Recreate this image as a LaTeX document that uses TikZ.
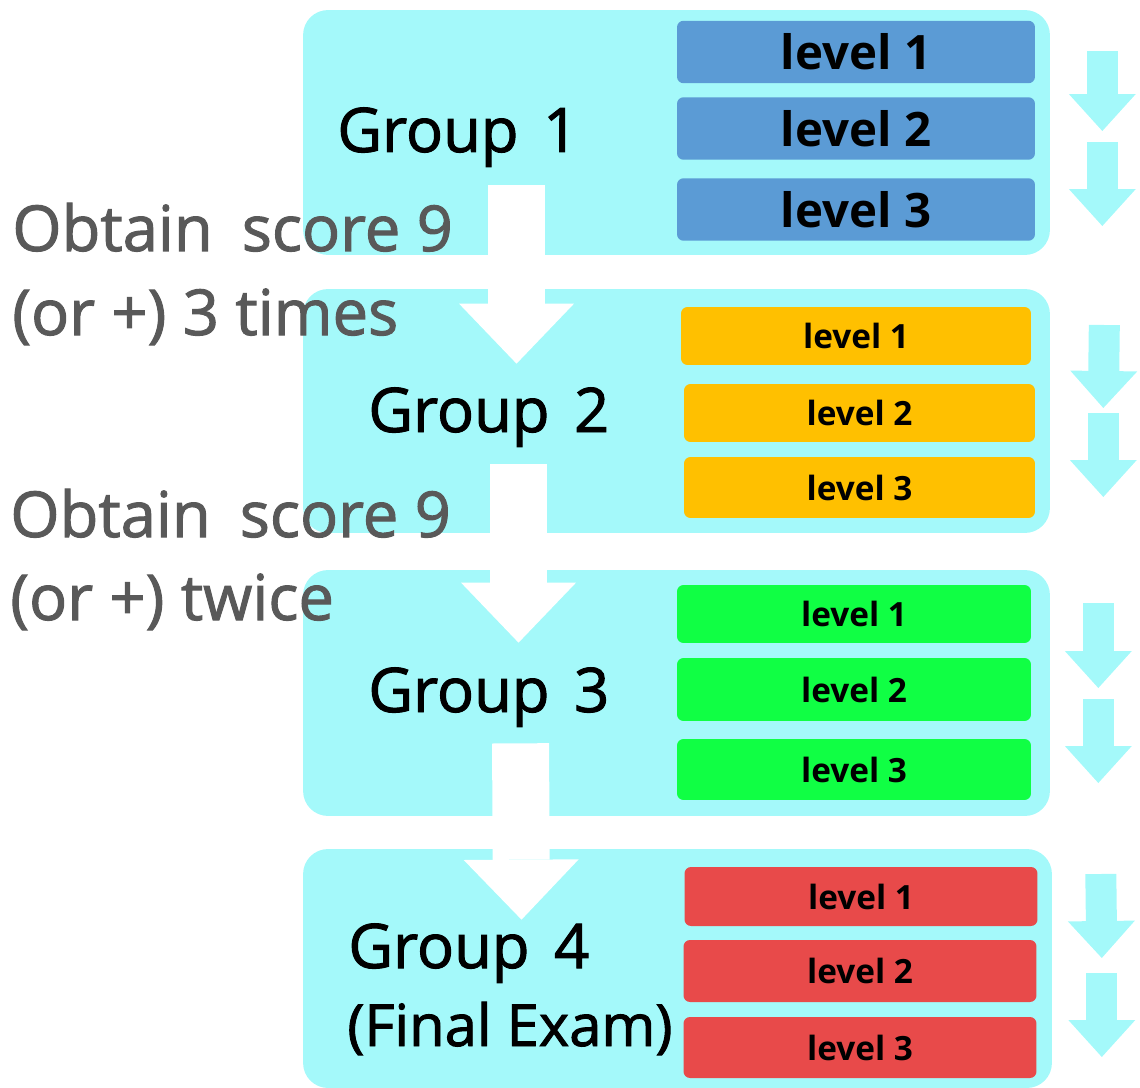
\documentclass[tikz,border=0pt]{standalone}
\usepackage{fontspec}
\setmainfont{Open Sans}
\newfontfamily\heavyfont[FakeBold=1.6]{Open Sans}
\usetikzlibrary{arrows.meta, positioning, calc}
\usepackage{xcolor}

\definecolor{panelCyan}{RGB}{164,249,250}
\definecolor{lvlBlue}{RGB}{91,155,213}
\definecolor{lvlOrange}{RGB}{255,192,0}
\definecolor{lvlGreen}{RGB}{16,255,68}
\definecolor{lvlRed}{RGB}{232,74,74}
\definecolor{noteGray}{RGB}{89,89,89}

\tikzset{
    % Panels and level bars
    panel/.style={rectangle, rounded corners=0.5cm, fill=panelCyan, inner sep=0pt},
    lvl/.style={rectangle, rounded corners=0.13cm, inner sep=0pt,
                minimum width=7.06cm, minimum height=1.2cm,
                font=\bfseries\fontsize{19}{22}\selectfont},
    lvlBig/.style={lvl, minimum height=1.25cm, font=\bfseries\fontsize{27}{30}\selectfont},
    % Labels
    grouplbl/.style={anchor=base west, inner sep=0pt, font=\heavyfont\fontsize{35}{40}\selectfont},
    notelbl/.style={anchor=base west, inner sep=0pt, text=noteGray, font=\heavyfont\fontsize{36}{42}\selectfont},
    % Arrows
    bigflow/.style={-{Triangle[line width=0pt, length=1.2cm, width=2.3cm]}, line width=1.14cm, white},
    sideflow/.style={-{Triangle[line width=0pt, length=0.74cm, width=1.34cm]}, line width=0.62cm, panelCyan}
}

\begin{document}
\begin{tikzpicture}[x=0.02cm, y=-0.02cm]
\useasboundingbox (0,0) rectangle (1140,1088);

% group panels
\node[panel, minimum width=14.94cm, minimum height=4.9cm] (grp1) at (676.5,132.5) {};
\node[panel, minimum width=14.94cm, minimum height=4.88cm] (grp2) at (676.5,411) {};
\node[panel, minimum width=14.94cm, minimum height=4.92cm] (grp3) at (676.5,693) {};
\node[panel, minimum width=14.98cm, minimum height=4.78cm] (grp4) at (677.5,968.5) {};

% level bars
\node[lvlBig, fill=lvlBlue, minimum width=7.16cm] (b1) at (856,52) {level 1};
\node[lvlBig, fill=lvlBlue, minimum width=7.16cm] (b2) at (856,128.5) {level 2};
\node[lvlBig, fill=lvlBlue, minimum width=7.16cm] (b3) at (856,209.5) {level 3};

\node[lvl, fill=lvlOrange, minimum width=7.0cm, minimum height=1.16cm] (o1) at (856,336) {level 1};
\node[lvl, fill=lvlOrange, minimum width=7.02cm, minimum height=1.16cm] (o2) at (859.5,413) {level 2};
\node[lvl, fill=lvlOrange, minimum width=7.02cm, minimum height=1.22cm] (o3) at (859.5,487.5) {level 3};

\node[lvl, fill=lvlGreen, minimum width=7.08cm, minimum height=1.16cm] (g1) at (854,614) {level 1};
\node[lvl, fill=lvlGreen, minimum width=7.08cm, minimum height=1.26cm] (g2) at (854,689.5) {level 2};
\node[lvl, fill=lvlGreen, minimum width=7.08cm, minimum height=1.22cm] (g3) at (854,769.5) {level 3};

\node[lvl, fill=lvlRed, minimum height=1.18cm] (r1) at (861,896.5) {level 1};
\node[lvl, fill=lvlRed, minimum height=1.24cm] (r2) at (860,971) {level 2};
\node[lvl, fill=lvlRed, minimum height=1.22cm] (r3) at (860,1047.5) {level 3};

% white arrows between the groups
\draw[bigflow] ([xshift=-3.2cm, yshift=1.4cm]grp1.south) -- ([xshift=-3.2cm, yshift=-1.5cm]grp2.north);
\draw[bigflow] ([xshift=-3.16cm, yshift=1.38cm]grp2.south) -- ([xshift=-3.16cm, yshift=-1.46cm]grp3.north);
\draw[bigflow] ([xshift=-3.12cm, yshift=1.46cm]grp3.south) -- ([xshift=-3.12cm, yshift=-1.42cm]grp4.north);

% group names
\node[grouplbl] (n1) at (337,152) {Group\hspace{0.4em}1};
\node[grouplbl] (n2) at (368,432) {Group\hspace{0.4em}2};
\node[grouplbl] (n3) at (368,712) {Group\hspace{0.4em}3};
\node[grouplbl] (n4) at (348,968) {Group\hspace{0.4em}4};
\node[grouplbl, font=\heavyfont\fontsize{33}{40}\selectfont] (n4b) at (347,1046) {(Final Exam)};

% promotion rules
\node[notelbl] (rule1a) at (12,251) {Obtain\hspace{0.2em} score 9};
\node[notelbl] (rule1b) at (12,335) {(or +) 3 times};
\node[notelbl] (rule2a) at (10,537) {Obtain\hspace{0.2em} score 9};
\node[notelbl] (rule2b) at (10,620) {(or +) twice};

% side arrows
\draw[sideflow] ($(b1.east)+(67,-1)$) -- ($(b2.east)+(67,2.5)$);
\draw[sideflow] ($(b2.east)+(67,13.5)$) -- ($(b3.east)+(67,16.5)$);
\draw[sideflow] ($(o1.east)+(73,-11)$) -- ($(o2.east)+(68,-5)$);
\draw[sideflow] ($(o2.east)+(68,0)$) -- ($(o3.east)+(68,9.5)$);
\draw[sideflow] ($(g1.east)+(67,-11)$) -- ($(g2.east)+(67,-1.5)$);
\draw[sideflow] ($(g2.east)+(67,9.5)$) -- ($(g3.east)+(67,13.5)$);
\draw[sideflow] ($(r1.east)+(63,-22.5)$) -- ($(r2.east)+(65,-13)$);
\draw[sideflow] ($(r2.east)+(65,2)$) -- ($(r3.east)+(65,9.5)$);

\end{tikzpicture}
\end{document}
